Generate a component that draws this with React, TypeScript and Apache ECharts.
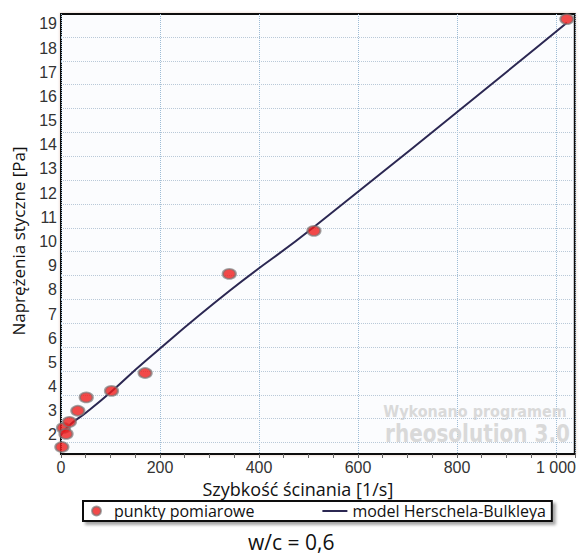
import React, { useEffect, useRef } from "react";
import * as echarts from "echarts";

const shearRates = [1.7, 5.1, 10.2, 17, 34, 51, 102, 170, 340, 511, 1022];
const stresses = [1.5, 2.29, 2.04, 2.54, 3.0, 3.55, 3.82, 4.56, 8.66, 10.44, 19.2];

const modelRates = [0, 17, 51, 102, 170, 340, 511, 1022];
const modelStress = [2.0, 2.4, 2.93, 3.8, 5.05, 7.95, 10.6, 19.05];

const yLabelValues = [2, 3, 4, 5, 6, 7, 8, 9, 10, 11, 12, 13, 14, 15, 16, 17, 18, 19];
const yGridValues = [1.68, 2.67, 3.65, 4.64, 5.63, 6.62, 7.6, 8.59, 9.58, 10.56, 11.55, 12.54, 13.53, 14.51, 15.5, 16.49, 17.47, 18.46];

const seriesNames = ["punkty pomiarowe", "model Herschela-Bulkleya"];
const xTitle = "Szybkość ścinania [1/s]";
const yTitle = "Naprężenia styczne [Pa]";
const caption = "w/c = 0,6";

export default function App() {
  const ref = useRef<HTMLDivElement>(null);
  useEffect(() => {
    document.body.style.margin = "0";
    const chart = echarts.init(ref.current!, null, { renderer: "svg" });
    const option: any = {
      animation: false,
      backgroundColor: "#ffffff",
      grid: {
        left: 61,
        right: 2,
        top: 14,
        bottom: 104,
        show: true,
        backgroundColor: "#fbfcfe",
        borderColor: "#111",
        borderWidth: 2,
        shadowColor: "rgba(190,140,110,0.45)",
        shadowBlur: 3,
      },
      xAxis: {
        type: "value",
        min: 0,
        max: 1038,
        interval: 200,
        name: xTitle,
        nameLocation: "middle",
        nameGap: 22,
        nameTextStyle: { fontFamily: "Open Sans", fontSize: 18, color: "#111", padding: [0, 40, 0, 0] },
        axisLine: { show: false },
        axisTick: { show: true, length: 4, lineStyle: { color: "#666" } },
        minorTick: { show: true, splitNumber: 4, length: 4, lineStyle: { color: "#666" } },
        axisLabel: {
          fontFamily: "Liberation Sans",
          fontSize: 16,
          color: "#333",
          margin: 5,
          showMaxLabel: false,
          formatter: (v: number) => (v % 200 === 0 ? (v >= 1000 ? "1 000" : String(v)) : ""),
        },
        splitLine: { show: true, lineStyle: { type: "dotted", color: "#9dbcd6", width: 1 } },
      },
      yAxis: {
        type: "value",
        min: 1.21,
        max: 19.41,
        name: yTitle,
        nameLocation: "middle",
        nameRotate: 90,
        nameGap: 34,
        nameTextStyle: { fontFamily: "Open Sans", fontSize: 17, color: "#111", padding: [0, 14, 0, 0] },
        axisLine: { show: false },
        axisTick: { show: false },
        axisLabel: {
          customValues: yLabelValues,
          fontFamily: "Liberation Sans",
          fontSize: 16,
          color: "#333",
          margin: 4,
        },
        splitLine: { show: false },
      },
      legend: {
        left: 83,
        top: 501,
        orient: "horizontal",
        backgroundColor: "#fff",
        borderColor: "#111",
        borderWidth: 2,
        shadowColor: "rgba(0,0,0,0.35)",
        shadowBlur: 3,
        shadowOffsetX: 3,
        shadowOffsetY: 3,
        padding: [2, 6, 2, 8],
        itemGap: 68,
        itemWidth: 25,
        itemHeight: 9,
        textStyle: { fontFamily: "Open Sans", fontSize: 16, color: "#111" },
        data: [
          { name: seriesNames[0], icon: "circle" },
          { name: seriesNames[1], icon: "path://M0,0 L25,0 L25,2 L0,2 Z" },
        ],
      },
      graphic: [
        {
          type: "text",
          right: 12,
          top: 404,
          z: 1,
          style: { text: "Wykonano programem", font: "bold 15px 'DejaVu Sans'", fill: "#d9d9d9" },
          scaleX: 0.96,
        },
        {
          type: "text",
          right: 9,
          top: 421,
          z: 1,
          style: { text: "rheosolution 3.0", font: "bold 25px 'DejaVu Sans'", fill: "#d9d9d9" },
          scaleX: 0.8,
        },
        {
          type: "text",
          left: 248,
          top: 531,
          style: { text: caption, font: "21px 'Open Sans'", fill: "#111" },
        },
      ],
      series: [
        {
          name: seriesNames[1],
          type: "line",
          symbol: "none",
          smooth: true,
          data: modelRates.map((x, i) => [x, modelStress[i]]),
          lineStyle: { color: "#2b2752", width: 2 },
          itemStyle: { color: "#2b2752" },
          z: 3,
          markLine: {
            silent: true,
            symbol: "none",
            label: { show: false },
            lineStyle: { type: "dotted", color: "#b9c9d8", width: 1 },
            data: yGridValues.map((v) => ({ yAxis: v })),
            z: 1,
          },
        },
        {
          name: seriesNames[0],
          type: "scatter",
          symbol: "circle",
          symbolSize: [13, 10],
          data: shearRates.map((x, i) => [x, stresses[i]]),
          itemStyle: { color: "#f01c1c", borderColor: "rgba(120,120,120,0.85)", borderWidth: 2 },
          z: 4,
        },
      ],
    };
    chart.setOption(option);
    return () => chart.dispose();
  }, []);
  return <div ref={ref} style={{ width: 579, height: 558 }} />;
}
